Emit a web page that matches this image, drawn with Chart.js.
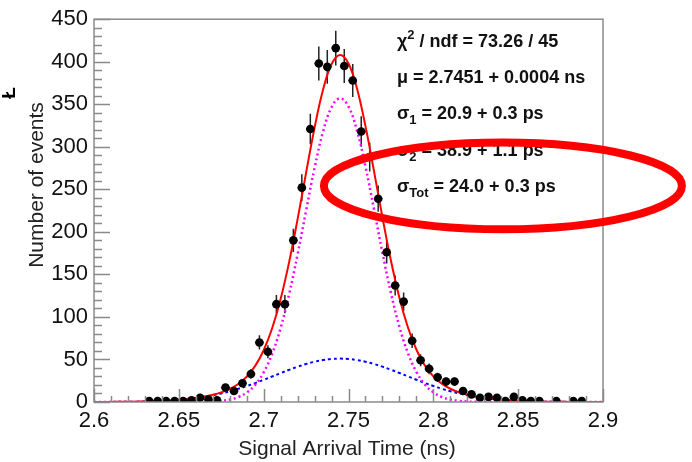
<!DOCTYPE html>
<html>
<head>
<meta charset="utf-8">
<title>Signal Arrival Time</title>
<script src="https://cdn.jsdelivr.net/npm/chart.js@4"></script>
<style>
  html, body { margin: 0; padding: 0; background: #fff; }
  #wrap { width: 692px; height: 462px; }
</style>
</head>
<body>
<div id="wrap"><canvas id="timingChart" width="692" height="462"></canvas></div>

<script>
    // histogram: bin centres (ns) and entries
    const binCenters = [
        2.6325, 2.6375, 2.6425, 2.6475, 2.6525, 2.6575, 2.6625, 2.6675, 2.6725, 2.6775,
        2.6825, 2.6875, 2.6925, 2.6975, 2.7025, 2.7075, 2.7125, 2.7175, 2.7225, 2.7275,
        2.7325, 2.7375, 2.7425, 2.7475, 2.7525, 2.7575, 2.7625, 2.7675, 2.7725, 2.7775,
        2.7825, 2.7875, 2.7925, 2.7975, 2.8025, 2.8075, 2.8125, 2.8175, 2.8225, 2.8275,
        2.8325, 2.8375, 2.8425, 2.8475, 2.8525, 2.8575, 2.8625, 2.8725, 2.8825, 2.8875
    ];
    const counts = [
        1, 1, 1, 1, 1, 2, 5, 3, 2, 17,
        13, 22, 33, 70, 59, 115, 115, 190, 252, 321,
        398, 394, 416, 395, 378, 318, 288, 239, 176, 137,
        118, 72, 49, 39, 29, 24, 24, 13, 9, 5,
        6, 5, 1, 6, 2, 1, 1, 1, 1, 1
    ];
    const binHalfWidth = 0.0025;

    // fit curves, read along x every 0.005 ns
    const fitX = [
        2.600, 2.605, 2.610, 2.615, 2.620, 2.625, 2.630, 2.635, 2.640, 2.645,
        2.650, 2.655, 2.660, 2.665, 2.670, 2.675, 2.680, 2.685, 2.690, 2.695,
        2.700, 2.705, 2.710, 2.715, 2.720, 2.725, 2.730, 2.735, 2.740, 2.745,
        2.750, 2.755, 2.760, 2.765, 2.770, 2.775, 2.780, 2.785, 2.790, 2.795,
        2.800, 2.805, 2.810, 2.815, 2.820, 2.825, 2.830, 2.835, 2.840, 2.845,
        2.850, 2.855, 2.860, 2.865, 2.870, 2.875, 2.880, 2.885, 2.890, 2.895, 2.900
    ];
    const fitTotal = [
        0.05, 0.08, 0.12, 0.19, 0.29, 0.43, 0.64, 0.93, 1.33, 1.86,
        2.58, 3.52, 4.75, 6.35, 8.47, 11.35, 15.36, 21.17, 29.75, 42.43,
        60.83, 86.63, 121.1, 164.4, 215.0, 269.4, 322.3, 367.0, 397.1, 408.0,
        397.9, 368.5, 324.3, 271.7, 217.2, 166.3, 122.6, 87.84, 61.70, 43.00,
        30.14, 21.47, 15.56, 11.48, 8.57, 6.43, 4.80, 3.56, 2.61, 1.89,
        1.34, 0.94, 0.65, 0.44, 0.29, 0.19, 0.13, 0.08, 0.05, 0.03, 0.02
    ];
    const fitNarrow = [
        0, 0, 0, 0, 0, 0, 0, 0, 0, 0,
        0.01, 0.03, 0.09, 0.23, 0.56, 1.29, 2.79, 5.71, 11.05, 20.18,
        34.79, 56.65, 87.14, 126.6, 173.6, 224.8, 275.0, 317.7, 346.5, 357.0,
        347.3, 319.1, 276.9, 226.9, 175.6, 128.3, 88.5, 57.7, 35.5, 20.6,
        11.3, 5.88, 2.88, 1.33, 0.58, 0.24, 0.09, 0.03, 0.01, 0,
        0, 0, 0, 0, 0, 0, 0, 0, 0, 0, 0
    ];
    const fitWide = [
        0.05, 0.08, 0.12, 0.19, 0.29, 0.43, 0.64, 0.93, 1.33, 1.86,
        2.57, 3.49, 4.66, 6.12, 7.91, 10.06, 12.57, 15.46, 18.70, 22.25,
        26.04, 29.98, 33.95, 37.81, 41.42, 44.63, 47.30, 49.31, 50.56, 51.00,
        50.60, 49.37, 47.39, 44.75, 41.55, 37.95, 34.10, 30.14, 26.20, 22.40,
        18.84, 15.59, 12.68, 10.15, 7.99, 6.19, 4.71, 3.53, 2.60, 1.89,
        1.34, 0.94, 0.65, 0.44, 0.29, 0.19, 0.13, 0.08, 0.05, 0.03, 0.02
    ];

    // axes
    const xTickValues = [2.6, 2.65, 2.7, 2.75, 2.8, 2.85, 2.9];
    const xTickLabels = ['2.6', '2.65', '2.7', '2.75', '2.8', '2.85', '2.9'];
    const yTickValues = [0, 50, 100, 150, 200, 250, 300, 350, 400, 450];
    const xTitle = 'Signal Arrival Time (ns)';
    const yTitle = 'Number of events';

    // fit box text: [text, 'n' | 'sub' | 'sup']
    const statLines = [
        [['χ', 'n'], ['2', 'sup'], [' / ndf = 73.26 / 45', 'n']],
        [['μ = 2.7451 + 0.0004 ns', 'n']],
        [['σ', 'n'], ['1', 'sub'], [' = 20.9 + 0.3 ps', 'n']],
        [['σ', 'n'], ['2', 'sub'], [' = 38.9 + 1.1 ps', 'n']],
        [['σ', 'n'], ['Tot', 'sub'], [' = 24.0 + 0.3 ps', 'n']]
    ];

    // red hand-drawn ellipse, in data units (centre x, centre y, radius x, radius y)
    const markEllipse = [2.841, 254, 0.1055, 51];

    const FONT = "'Liberation Sans', Arial, sans-serif";
    const AXIS_GRAY = '#8a8a8a';

    function drawRich(ctx, x, y, parts) {
        let cx = x;
        parts.forEach(([txt, kind]) => {
            let dy = 0;
            if (kind === 'n') ctx.font = 'bold 18px ' + FONT;
            else ctx.font = 'bold 13px ' + FONT;
            if (kind === 'sub') dy = 5;
            if (kind === 'sup') dy = -8;
            ctx.fillText(txt, cx, y + dy);
            cx += ctx.measureText(txt).width;
        });
    }

    const rootStyle = {
        id: 'rootStyle',
        beforeDatasetsDraw(chart) {
            // error bars
            const { ctx, chartArea: a, scales: { x, y } } = chart;
            ctx.save();
            ctx.beginPath();
            ctx.rect(a.left, a.top, a.right - a.left, a.bottom - a.top);
            ctx.clip();
            ctx.strokeStyle = '#222';
            ctx.lineWidth = 1.5;
            binCenters.forEach((c, i) => {
                const n = counts[i];
                const err = Math.sqrt(n);
                const px = x.getPixelForValue(c);
                const py = y.getPixelForValue(n);
                ctx.beginPath();
                ctx.moveTo(px, y.getPixelForValue(n - err));
                ctx.lineTo(px, y.getPixelForValue(n + err));
                ctx.moveTo(x.getPixelForValue(c - binHalfWidth), py);
                ctx.lineTo(x.getPixelForValue(c + binHalfWidth), py);
                ctx.stroke();
            });
            ctx.restore();
        },
        afterDraw(chart) {
            const { ctx, chartArea: a, scales: { x, y } } = chart;
            ctx.save();

            // frame
            ctx.strokeStyle = AXIS_GRAY;
            ctx.lineWidth = 1.5;
            ctx.strokeRect(a.left, a.top, a.right - a.left, a.bottom - a.top);

            // ticks, pointing inside
            ctx.beginPath();
            for (let v = 0; v <= 450; v += 10) {
                const py = Math.round(y.getPixelForValue(v)) + 0.5;
                const len = v % 50 === 0 ? 16 : 8;
                ctx.moveTo(a.left, py);
                ctx.lineTo(a.left + len, py);
            }
            for (let k = 0; k <= 30; k++) {
                const px = Math.round(x.getPixelForValue(2.6 + k * 0.01)) + 0.5;
                const len = k % 5 === 0 ? 13 : 6;
                ctx.moveTo(px, a.bottom);
                ctx.lineTo(px, a.bottom - len);
            }
            ctx.stroke();

            // axis titles
            ctx.fillStyle = '#222';
            ctx.font = '21px ' + FONT;
            ctx.textAlign = 'center';
            ctx.textBaseline = 'alphabetic';
            ctx.fillText(xTitle, 347, 455);
            ctx.save();
            ctx.translate(43, 185);
            ctx.rotate(-Math.PI / 2);
            ctx.fillText(yTitle, 0, 0);
            ctx.restore();

            // stray glyph at the left edge
            ctx.save();
            ctx.translate(15, 93);
            ctx.rotate(-Math.PI / 2);
            ctx.font = 'bold 19px ' + FONT;
            ctx.fillStyle = '#000';
            ctx.textAlign = 'center';
            ctx.fillText('Ł', 0, 0);
            ctx.restore();

            // fit results
            ctx.textAlign = 'left';
            ctx.fillStyle = '#111';
            const baselines = [47, 83, 119, 156, 192];
            statLines.forEach((parts, i) => drawRich(ctx, 397, baselines[i], parts));

            // red ellipse on top
            const [ex, ey, erx, ery] = markEllipse;
            const cx = x.getPixelForValue(ex);
            const cy = y.getPixelForValue(ey);
            const rx = x.getPixelForValue(ex + erx) - cx;
            const ry = cy - y.getPixelForValue(ey + ery);
            ctx.beginPath();
            ctx.ellipse(cx, cy, rx, ry, 0, 0, Math.PI * 2);
            ctx.strokeStyle = '#ff0000';
            ctx.lineWidth = 8;
            ctx.stroke();

            ctx.restore();
        }
    };

    const toPoints = (xs, ys) => xs.map((v, i) => ({ x: v, y: ys[i] }));

    new Chart(document.getElementById('timingChart'), {
        type: 'scatter',
        data: {
            datasets: [
                {
                    label: 'data',
                    data: toPoints(binCenters, counts),
                    pointRadius: 4.3,
                    pointBackgroundColor: '#000',
                    pointBorderWidth: 0,
                    order: 0
                },
                {
                    label: 'total',
                    data: toPoints(fitX, fitTotal),
                    showLine: true,
                    borderColor: '#ff0000',
                    borderWidth: 2,
                    pointRadius: 0,
                    tension: 0.4,
                    order: 1
                },
                {
                    label: 'narrow',
                    data: toPoints(fitX, fitNarrow),
                    showLine: true,
                    borderColor: '#ff00ff',
                    borderWidth: 2.5,
                    borderDash: [2, 3],
                    pointRadius: 0,
                    tension: 0.4,
                    order: 2
                },
                {
                    label: 'wide',
                    data: toPoints(fitX, fitWide),
                    showLine: true,
                    borderColor: '#0000ff',
                    borderWidth: 2,
                    borderDash: [3, 3],
                    pointRadius: 0,
                    tension: 0.4,
                    order: 3
                }
            ]
        },
        options: {
            responsive: false,
            animation: false,
            devicePixelRatio: 1,
            layout: { padding: { top: 17, right: 89, left: 0, bottom: 0 } },
            plugins: {
                legend: { display: false },
                tooltip: { enabled: false }
            },
            scales: {
                x: {
                    type: 'linear',
                    min: 2.6,
                    max: 2.9,
                    afterBuildTicks: s => { s.ticks = xTickValues.map(v => ({ value: v })); },
                    afterFit: s => { s.height = 60; },
                    grid: { display: false, drawTicks: false },
                    border: { display: false },
                    ticks: {
                        autoSkip: false,
                        maxRotation: 0,
                        padding: 6,
                        color: '#111',
                        font: { family: FONT, size: 22 },
                        callback: (v, i) => xTickLabels[i]
                    }
                },
                y: {
                    min: 0,
                    max: 450,
                    afterBuildTicks: s => { s.ticks = yTickValues.map(v => ({ value: v })); },
                    afterFit: s => { s.width = 94; },
                    grid: { display: false, drawTicks: false },
                    border: { display: false },
                    ticks: {
                        autoSkip: false,
                        padding: 6,
                        color: '#111',
                        font: { family: FONT, size: 22 },
                        callback: v => String(v)
                    }
                }
            }
        },
        plugins: [rootStyle]
    });
</script>
</body>
</html>
